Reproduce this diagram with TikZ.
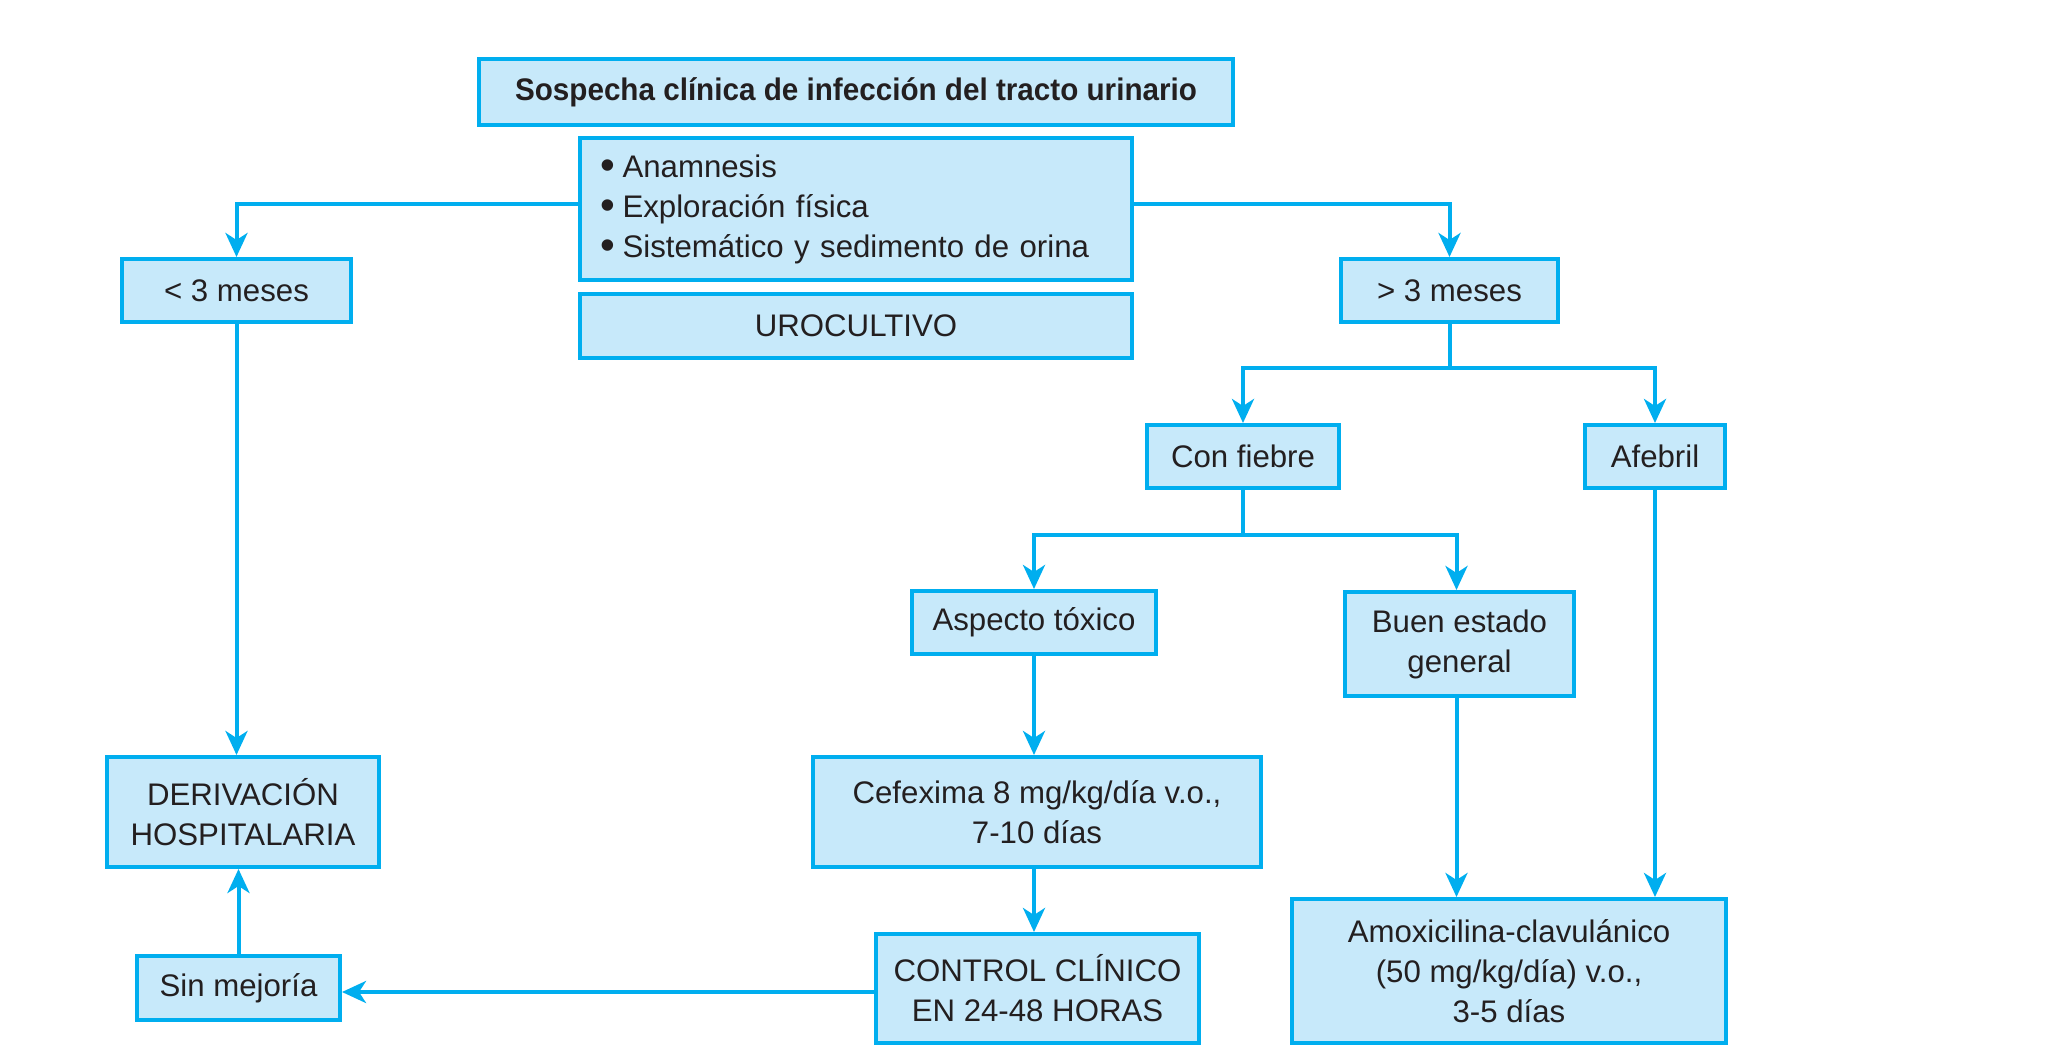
\documentclass[tikz,border=0pt]{standalone}
\usepackage{fontspec}
\setmainfont{Liberation Sans}[BoldFeatures={FakeStretch=0.95}]
\usetikzlibrary{arrows.meta}
\definecolor{cyanB}{HTML}{00AEEF}
\definecolor{fillB}{HTML}{C7E9FA}
\definecolor{txtC}{HTML}{231F20}
\newcommand{\bul}{\raisebox{-0.09em}{\scalebox{1.35}{•}}\hspace{0.25em}}
\begin{document}
\begin{tikzpicture}[x=0.5pt,y=-0.5pt,
  box/.style={draw=cyanB,fill=fillB,line width=2pt,inner sep=0pt,align=center,text=txtC,
    font=\fontsize{15.6}{20}\selectfont},
  arr/.style={draw=cyanB,line width=2pt,-{Stealth[length=12pt,width=11pt,inset=3.5pt]}},
  conn/.style={draw=cyanB,line width=2pt}]
\useasboundingbox (0,0) rectangle (2051,1064);
\node[box,minimum width=754*0.5pt,minimum height=66*0.5pt] (title) at (856,92) {\textbf{Sospecha clínica de infección del tracto urinario}};
\node[box,minimum height=142*0.5pt,align=left,inner xsep=10pt,text width=256pt] (info) at (856,209) {\bul Anamnesis\\\bul Exploración física\\\bul Sistemático y sedimento de orina};
\node[box,minimum width=552*0.5pt,minimum height=64*0.5pt] (uro) at (856,326) {UROCULTIVO};
\node[box,minimum width=229*0.5pt,minimum height=63*0.5pt] (lt3) at (236.5,290.5) {< 3 meses};
\node[box,minimum width=217*0.5pt,minimum height=63*0.5pt] (gt3) at (1449.5,290.5) {> 3 meses};
\node[box,minimum width=192*0.5pt,minimum height=63*0.5pt] (fiebre) at (1243,456.5) {Con fiebre};
\node[box,minimum width=140*0.5pt,minimum height=63*0.5pt] (afebril) at (1655,456.5) {Afebril};
\node[box,minimum width=244*0.5pt,minimum height=63*0.5pt] (aspecto) at (1034,622.5) {Aspecto tóxico};
\node[box,minimum width=229*0.5pt,minimum height=104*0.5pt] (buen) at (1459.5,644) {Buen estado\\general};
\node[box,minimum width=272*0.5pt,minimum height=110*0.5pt] (deriv) at (243,812) {DERIVACIÓN\\HOSPITALARIA};
\node[box,minimum width=448*0.5pt,minimum height=110*0.5pt] (cefex) at (1037,812) {Cefexima 8 mg/kg/día v.o.,\\7-10 días};
\node[box,minimum width=203*0.5pt,minimum height=64*0.5pt] (sin) at (238.5,988) {Sin mejoría};
\node[box,minimum width=323*0.5pt,minimum height=109*0.5pt] (control) at (1037.5,988.5) {CONTROL CLÍNICO\\EN 24-48 HORAS};
\node[box,minimum width=434*0.5pt,minimum height=144*0.5pt] (amoxi) at (1509,971) {Amoxicilina-clavulánico\\(50 mg/kg/día) v.o.,\\3-5 días};
\coordinate (iw) at (info.west |- 0,204);
\coordinate (ie) at (info.east |- 0,204);
\draw[arr] (iw) -| (lt3.north);
\draw[arr] (ie) -| (gt3.north);
\coordinate (j1) at (gt3.south |- 0,368);
\draw[conn] (gt3.south) -- (j1);
\draw[arr] (j1) -| (fiebre.north);
\draw[arr] (j1) -| (afebril.north);
\coordinate (j2) at (fiebre.south |- 0,535);
\coordinate (bs) at ([xshift=-1.5pt]buen.south);
\draw[conn] (fiebre.south) -- (j2);
\draw[arr] (j2) -| (aspecto.north);
\draw[arr] (j2) -| (bs |- buen.north);
\draw[arr] (aspecto.south) -- (cefex.north -| aspecto.south);
\draw[arr] (cefex.south -| aspecto.south) -- (control.north -| aspecto.south);
\draw[arr] (lt3.south) -- (deriv.north -| lt3.south);
\draw[arr] (sin.north) -- (deriv.south -| sin.north);
\draw[arr] (control.west |- 0,992) -- (sin.east |- 0,992);
\draw[arr] (bs) -- (amoxi.north -| bs);
\draw[arr] (afebril.south) -- (amoxi.north -| afebril.south);
\end{tikzpicture}
\end{document}
